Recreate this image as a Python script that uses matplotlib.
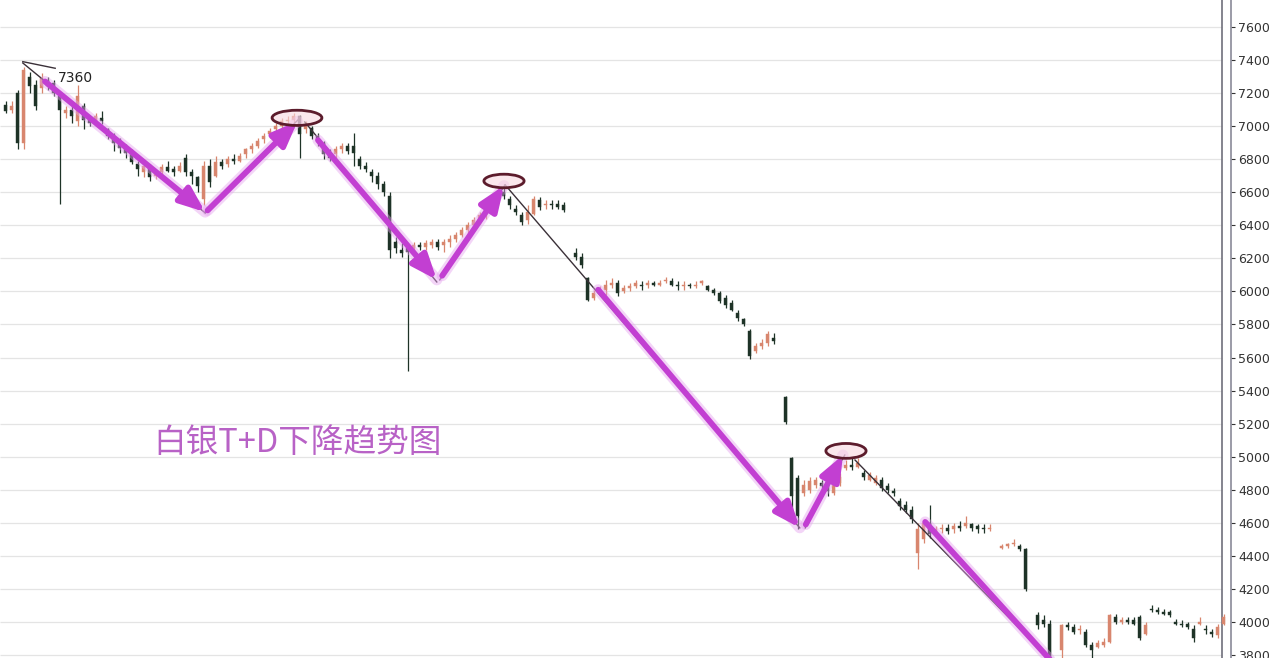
import numpy as np
import matplotlib
matplotlib.use("Agg")
import matplotlib.pyplot as plt
from matplotlib.patches import Ellipse

plt.rcParams['font.family'] = ['Noto Sans CJK SC', 'DejaVu Sans']

# 日K线数据 (开, 收, 高, 低), None = 无数据
opens = [
    7130, 7100, 7200, 6900, 7300, 7250, 7230, 7280, 7260, 7180,
    7080, 7100, 7030, 7120, 7040, 7030, 7050, 6980, 6940, 6910,
    6870, 6850, 6770, 6720, 6760, 6700, 6720, 6750, 6740, 6730,
    6810, 6720, 6690, 6560, 6760, 6700, 6780, 6770, 6800, 6790,
    6830, 6860, 6880, 6920, 6950, 6980, 7000, 7030, 7040, 7060,
    6980, 6990, 6940, 6900, 6840, 6830, 6860, 6880, 6880, 6800,
    6760, 6720, 6700, 6650, 6580, 6300, 6250, 6260, 6260, 6280,
    6270, 6280, 6300, 6280, 6300, 6320, 6340, 6370, 6400, 6430,
    6460, 6500, 6540, 6600, 6560, 6500, 6460, 6430, 6470, 6550,
    6520, 6530, 6530, 6520, None, 6230, 6210, 6080, 5960, 5990,
    6010, 6040, 6050, 6000, 6020, 6030, 6040, 6040, 6050, 6040,
    6060, 6060, 6040, 6030, 6040, 6030, 6050, 6030, 6010, 5990,
    5960, 5930, 5870, 5830, 5760, 5640, 5670, 5690, 5720, None,
    5360, 4990, 4870, 4780, 4800, 4830, 4840, 4820, 4780, 4840,
    4930, 4950, 4940, 4900, 4860, 4840, 4860, 4820, 4790, 4730,
    4710, 4680, 4420, 4500, 4600, 4540, 4560, 4570, 4560, 4580,
    4580, 4590, 4580, 4570, 4560, None, 4450, 4460, 4470, 4460,
    4440, None, 4040, 4010, 3990, None, 3830, 3980, 3970, 3950,
    3940, 3860, 3850, 3860, 3880, 4030, 4000, 4010, 4010, 4030,
    3930, 4080, 4070, 4060, 4060, 4000, 3990, 3990, 3960, 3990,
    3960, 3940, 3920, 3990,
]
closes = [
    7090, 7120, 6900, 7340, 7240, 7120, 7290, 7240, 7200, 7100,
    7100, 7060, 7180, 7040, 7020, 7060, 7030, 6940, 6900, 6870,
    6840, 6780, 6740, 6760, 6690, 6720, 6750, 6730, 6720, 6760,
    6720, 6700, 6640, 6760, 6660, 6780, 6760, 6800, 6790, 6820,
    6860, 6880, 6910, 6940, 6970, 7000, 7030, 7040, 7060, 6950,
    7010, 6940, 6920, 6830, 6810, 6860, 6880, 6850, 6840, 6760,
    6740, 6700, 6650, 6600, 6250, 6260, 6230, 6240, 6280, 6270,
    6290, 6300, 6270, 6300, 6320, 6340, 6370, 6400, 6430, 6460,
    6500, 6540, 6610, 6580, 6520, 6480, 6420, 6480, 6560, 6510,
    6530, 6520, 6510, 6490, None, 6210, 6160, 5950, 5990, 6010,
    6040, 6050, 5990, 6020, 6030, 6050, 6030, 6050, 6040, 6050,
    6070, 6040, 6030, 6040, 6030, 6040, 6060, 6010, 5990, 5940,
    5920, 5890, 5840, 5800, 5610, 5670, 5690, 5740, 5700, None,
    5210, 4760, 4640, 4830, 4850, 4860, 4820, 4790, 4830, 4880,
    4950, 4940, 4960, 4880, 4890, 4870, 4810, 4800, 4780, 4700,
    4680, 4620, 4560, 4600, 4530, 4560, 4570, 4550, 4580, 4570,
    4600, 4570, 4560, 4560, 4570, None, 4460, 4470, 4480, 4440,
    4200, None, 3980, 3990, 3780, None, 3980, 3970, 3940, 3960,
    3860, 3830, 3870, 3880, 4040, 4000, 4010, 4000, 3990, 3900,
    3980, 4070, 4060, 4050, 4040, 3990, 3980, 3970, 3900, 4000,
    3950, 3930, 3970, 4030,
]
highs = [
    7150, 7150, 7220, 7360, 7330, 7280, 7320, 7300, 7280, 7200,
    7120, 7140, 7250, 7140, 7060, 7080, 7090, 6990, 6960, 6930,
    6890, 6860, 6790, 6780, 6770, 6740, 6770, 6790, 6760, 6780,
    6830, 6740, 6700, 6790, 6800, 6820, 6800, 6820, 6830, 6840,
    6870, 6900, 6930, 6960, 6990, 7020, 7050, 7060, 7080, 7070,
    7030, 7000, 6960, 6910, 6860, 6880, 6900, 6900, 6960, 6820,
    6780, 6740, 6720, 6670, 6600, 6330, 6290, 6280, 6300, 6300,
    6310, 6320, 6320, 6320, 6340, 6360, 6390, 6420, 6450, 6480,
    6520, 6560, 6640, 6650, 6580, 6520, 6480, 6520, 6580, 6570,
    6550, 6550, 6550, 6540, None, 6260, 6230, 6090, 6010, 6030,
    6070, 6080, 6070, 6040, 6050, 6070, 6060, 6070, 6060, 6070,
    6090, 6080, 6060, 6060, 6050, 6060, 6070, 6040, 6020, 6000,
    5980, 5950, 5890, 5840, 5770, 5690, 5710, 5760, 5750, None,
    5370, 5000, 4890, 4860, 4880, 4880, 4860, 4850, 4860, 4900,
    4980, 4990, 4990, 4920, 4910, 4890, 4880, 4840, 4810, 4750,
    4730, 4700, 4600, 4620, 4710, 4580, 4590, 4590, 4600, 4610,
    4640, 4600, 4590, 4590, 4590, None, 4470, 4480, 4500, 4470,
    4450, None, 4060, 4040, 4010, None, 3990, 4000, 3990, 3980,
    3960, 3880, 3890, 3900, 4050, 4050, 4030, 4030, 4030, 4040,
    4000, 4100, 4090, 4080, 4070, 4020, 4010, 4000, 3980, 4030,
    3980, 3960, 3990, 4050,
]
lows = [
    7080, 7080, 6860, 6860, 7200, 7100, 7200, 7220, 7180, 6530,
    7050, 7020, 7000, 6980, 7000, 7010, 7010, 6920, 6850, 6840,
    6810, 6770, 6700, 6690, 6670, 6680, 6700, 6720, 6700, 6720,
    6700, 6650, 6600, 6520, 6630, 6690, 6740, 6750, 6770, 6780,
    6810, 6840, 6870, 6900, 6930, 6960, 6990, 7010, 7020, 6810,
    6960, 6920, 6880, 6800, 6790, 6810, 6840, 6830, 6760, 6740,
    6720, 6660, 6620, 6580, 6200, 6230, 6210, 5520, 6240, 6250,
    6250, 6260, 6250, 6240, 6270, 6300, 6330, 6350, 6380, 6410,
    6440, 6480, 6520, 6560, 6500, 6460, 6400, 6410, 6460, 6490,
    6500, 6500, 6500, 6480, None, 6190, 6140, 5940, 5950, 5970,
    5980, 6020, 5970, 5990, 6000, 6020, 6010, 6020, 6030, 6030,
    6050, 6030, 6010, 6010, 6020, 6020, 6040, 6000, 5980, 5930,
    5900, 5880, 5820, 5790, 5590, 5630, 5650, 5670, 5680, None,
    5200, 4660, 4560, 4760, 4780, 4810, 4780, 4760, 4770, 4820,
    4920, 4920, 4930, 4860, 4850, 4830, 4790, 4780, 4760, 4680,
    4660, 4600, 4320, 4480, 4510, 4520, 4540, 4530, 4540, 4550,
    4570, 4550, 4540, 4540, 4550, None, 4440, 4450, 4460, 4430,
    4190, None, 3960, 3970, 3780, None, 3780, 3950, 3930, 3930,
    3850, 3780, 3840, 3850, 3870, 3990, 3990, 3990, 3980, 3890,
    3920, 4060, 4050, 4040, 4030, 3980, 3970, 3960, 3880, 3980,
    3930, 3910, 3900, 3980,
]

y_ticks = list(range(3800, 7601, 200))
title = "白银T+D下降趋势图"
peak_label = "7360"

# 趋势箭头 (起点, 终点), 坐标为 (K线序号, 价格)
arrows = [
    ((6.5, 7270), (33.2, 6480)),
    ((33.6, 6490), (48.6, 7030)),
    ((52.0, 6915), (71.8, 6070)),
    ((72.7, 6095), (83.0, 6640)),
    ((98.7, 6010), (132.3, 4570)),
    ((133.3, 4590), (139.5, 5010)),
    ((153.2, 4605), (178.3, 3600)),
]
# 细趋势线
trend_lines = [
    ((2.8, 7382), (33.2, 6475)),
    ((33.2, 6475), (49.0, 7050)),
    ((49.8, 7025), (71.8, 6057)),
    ((72.3, 6070), (83.2, 6644)),
    ((83.2, 6644), (132.3, 4569)),
    ((133.2, 4569), (139.8, 5010)),
    ((141.5, 4980), (174.3, 3760)),
    ((2.8, 7390), (8.2, 7350)),
]
# 高点圈 (中心, 宽, 高)
circles = [
    ((48.5, 7050), 8.3, 92),
    ((83.0, 6668), 6.7, 82),
    ((140.0, 5035), 6.7, 90),
]

o = np.array(opens, dtype=float)
c = np.array(closes, dtype=float)
h = np.array(highs, dtype=float)
l = np.array(lows, dtype=float)
idx = np.arange(len(o))

fig = plt.figure(figsize=(12.72, 6.58), dpi=100)
ax = fig.add_axes([0, 0, 1231 / 1272, 1])
ax.set_xlim(-1, 204.17)
ax.set_ylim(3782, 7763)

# 网格线
ax.hlines(y_ticks, -1, 202.7, colors='#e4e4e4', lw=0.9, zorder=0)
ax.axvline(202.7, color='#70707c', lw=1.2, zorder=1)

up = c >= o
col_up = '#d8866e'
col_dn = '#1e3327'
colors = np.where(up, col_up, col_dn)
ok = ~np.isnan(o)
ax.vlines(idx[ok], l[ok], h[ok], colors=colors[ok], lw=0.9, zorder=2)
body_h = np.abs(c - o)
body_h = np.where(body_h < 8, 8, body_h)
ax.bar(idx[ok], body_h[ok], bottom=np.minimum(o, c)[ok], width=0.5,
       color=colors[ok], edgecolor=colors[ok], lw=0.3, zorder=3)

for (x0, y0), (x1, y1) in trend_lines:
    ax.plot([x0, x1], [y0, y1], color='#3a3038', lw=1.0, zorder=4)

for (x0, y0), (x1, y1) in arrows:
    ax.plot([x0, x1], [y0, y1], color='#e6a3ef', lw=8, alpha=0.45,
            solid_capstyle='round', zorder=5)
    ax.annotate('', xy=(x1, y1), xytext=(x0, y0), annotation_clip=False,
                arrowprops=dict(arrowstyle='-|>,head_width=0.4,head_length=1.0',
                                mutation_scale=15, lw=4.2, color='#c23fd2',
                                shrinkA=0, shrinkB=0), zorder=6)

for (cx, cy), w, ht in circles:
    ax.add_patch(Ellipse((cx, cy), w, ht, facecolor='#f7d8e0', alpha=0.6,
                         edgecolor='none', zorder=6.5))
    ax.add_patch(Ellipse((cx, cy), w, ht, facecolor='none',
                         edgecolor='#5c1c2c', lw=2, zorder=7))

ax.text(8.6, 7290, peak_label, fontsize=10, color='#222222',
        family='DejaVu Sans', va='center', ha='left', zorder=8)
ax.text(24.6, 5085, title, fontsize=23.5, color='#b862c6',
        fontweight='light', va='center', ha='left', zorder=8)

ax.yaxis.tick_right()
ax.set_yticks(y_ticks)
ax.set_yticklabels([str(v) for v in y_ticks], family='DejaVu Sans')
ax.tick_params(axis='y', direction='out', length=3, pad=2, labelsize=9,
               colors='#333333', width=0.8)
ax.set_xticks([])
for side in ['top', 'left', 'bottom']:
    ax.spines[side].set_visible(False)
ax.spines['right'].set_color('#8a8a98')
ax.spines['right'].set_linewidth(1.2)

fig.savefig('out.png', dpi=100, facecolor='white')
